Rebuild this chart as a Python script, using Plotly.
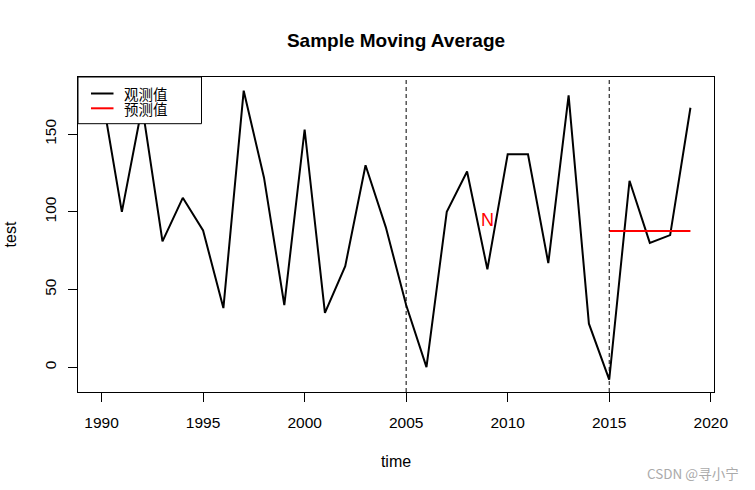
import plotly.graph_objects as go

years = list(range(1990, 2020))
observed = [177, 100, 168, 81, 109, 88, 38, 178, 122, 40,
            153, 35, 65, 130, 90, 40, 0, 100, 126, 63,
            137, 137, 67, 175, 28, -8, 120, 80, 85, 167]
pred_years = [2015, 2019]
pred_values = [87.6, 87.6]
vlines = [2005, 2015]
label_x, label_y, label_text = 2009, 95, "N"
x_ticks = [1990, 1995, 2000, 2005, 2010, 2015, 2020]
y_ticks = [0, 50, 100, 150]
legend_names = ["观测值", "预测值"]
legend_colors = ["black", "red"]

FONT = "Liberation Sans, Arial, sans-serif"
CJK = "Noto Sans CJK SC, sans-serif"

# plot box in pixels: x 78..714, y 77..392
L, R, T, B = 78, 714, 77, 392
W, H = R - L, B - T
def px(x): return (x - L) / W
def py(y): return (B - y) / H

fig = go.Figure()
fig.add_trace(go.Scatter(x=years, y=observed, mode="lines", name=legend_names[0],
                         line=dict(color=legend_colors[0], width=2), showlegend=False))
fig.add_trace(go.Scatter(x=pred_years, y=pred_values, mode="lines", name=legend_names[1],
                         line=dict(color=legend_colors[1], width=2), showlegend=False))
for v in vlines:
    fig.add_vline(x=v, line=dict(color="black", width=1, dash="4px,3px"))

fig.add_annotation(x=label_x, y=label_y, text=label_text, showarrow=False,
                   font=dict(color="red", size=18, family=FONT))

# legend box (R style)
fig.add_shape(type="rect", xref="paper", yref="paper", x0=0, x1=px(201.5),
              y0=py(123.7), y1=1, line=dict(color="black", width=1),
              fillcolor="white", layer="above")
for i, col in enumerate(legend_colors):
    yl = [93.5, 108.3][i]
    fig.add_shape(type="line", xref="paper", yref="paper", x0=px(91), x1=px(113.5),
                  y0=py(yl), y1=py(yl), line=dict(color=col, width=2), layer="above")
legend_text = "<br>".join(
    "<span style='font-size:14.5px'>%s</span>" % n for n in legend_names)
fig.add_annotation(xref="paper", yref="paper", x=px(123), y=py(101.5),
                   xanchor="left", yanchor="middle", text=legend_text,
                   showarrow=False, align="left", borderpad=0,
                   font=dict(family=CJK, size=11.4, color="black"))

fig.add_annotation(xref="paper", yref="paper", x=px(741), y=py(473),
                   xanchor="right", yanchor="middle",
                   text="CSDN @寻小宁", showarrow=False,
                   font=dict(color="#aaaaaa", size=13.5, family=CJK))

fig.update_layout(
    width=755, height=490,
    margin=dict(l=L, r=755 - R, t=T, b=490 - B, autoexpand=False),
    paper_bgcolor="white", plot_bgcolor="white",
    title=dict(text="<b>Sample Moving Average</b>", x=396 / 755, xanchor="center",
               y=1 - 40 / 490, yanchor="middle",
               font=dict(size=19, family=FONT, color="black")),
    font=dict(family=FONT, size=15.5, color="black"),
    showlegend=False,
    xaxis=dict(range=[1988.84, 2020.16], tickvals=x_ticks, ticks="outside",
               ticklen=9, tickcolor="black", showgrid=False, zeroline=False,
               showline=True, mirror=True, linecolor="black", linewidth=1,
               automargin=False, ticklabelstandoff=7,
               title=dict(text="time", standoff=26, font=dict(size=16))),
    yaxis=dict(range=[-16, 186.8], tickvals=y_ticks, ticks="outside",
               ticklen=9, tickcolor="black", showgrid=False, zeroline=False,
               tickangle=-90, showline=True, mirror=True, linecolor="black",
               linewidth=1, automargin=False, ticklabelstandoff=6,
               title=dict(text="test", standoff=21, font=dict(size=16))),
)

fig.write_html("out.html", post_script="document.body.style.margin='0';",
               config={"displayModeBar": False})
